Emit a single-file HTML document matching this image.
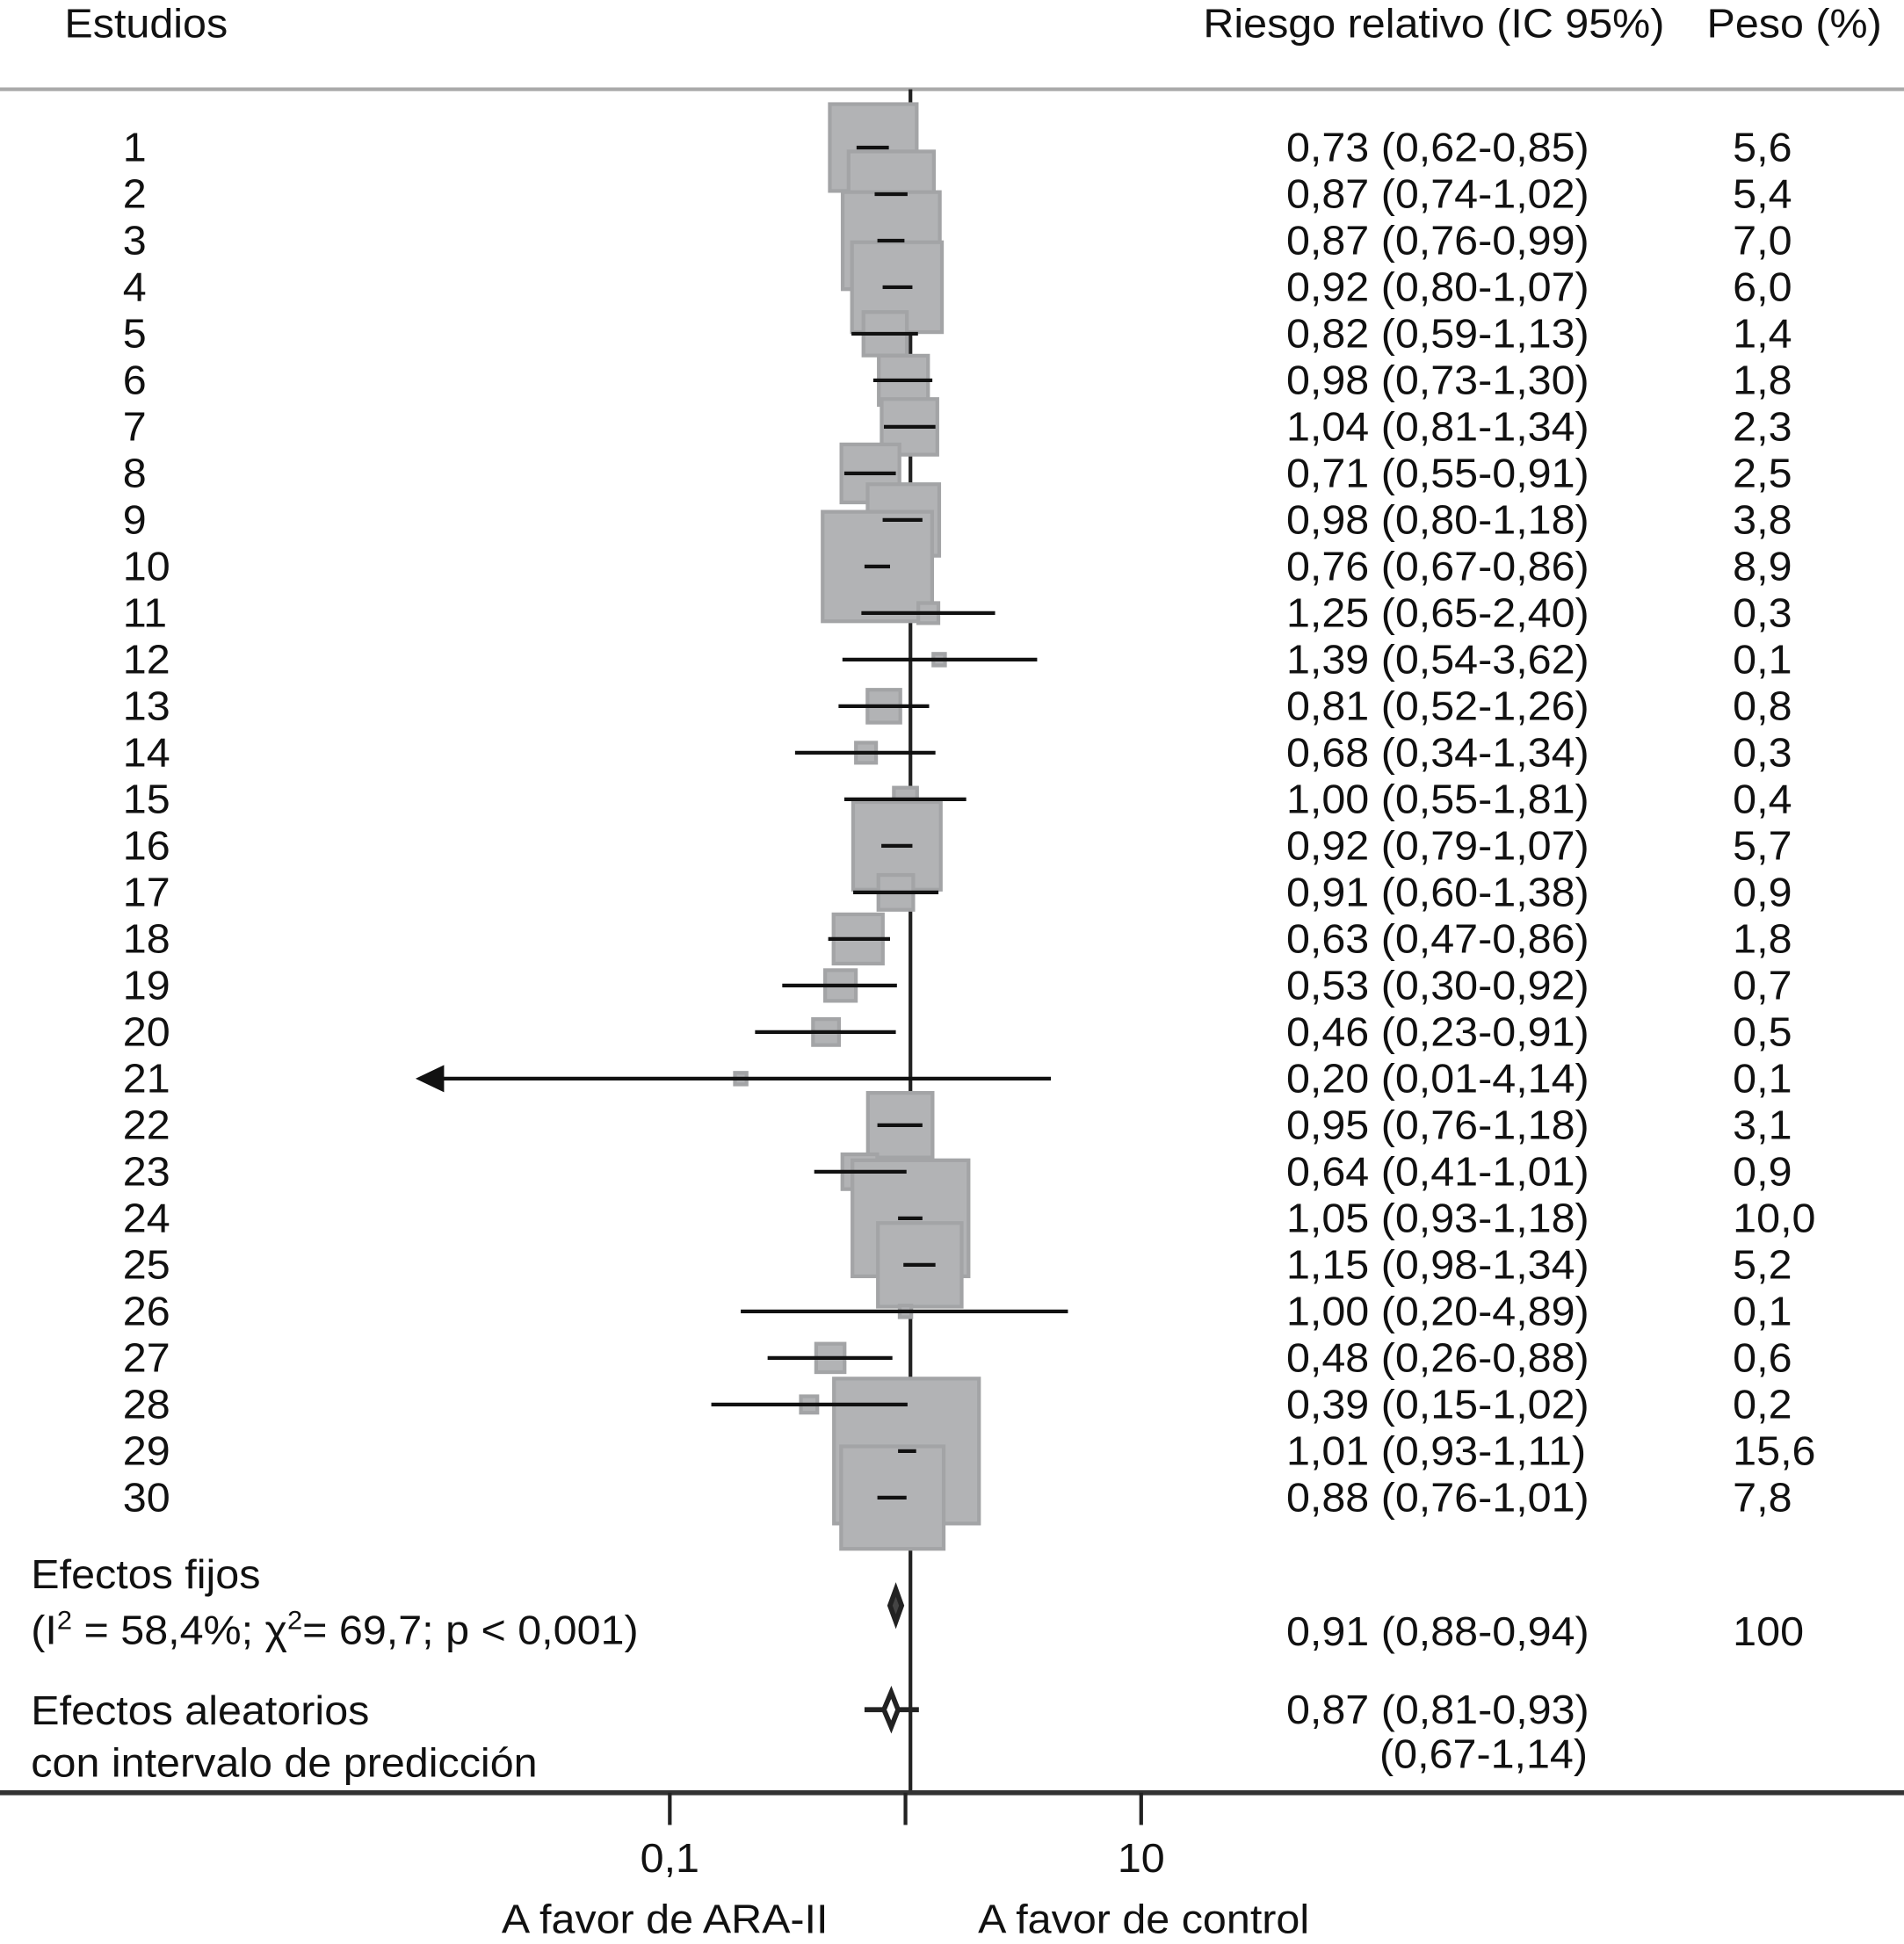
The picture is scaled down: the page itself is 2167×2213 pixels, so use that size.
<!DOCTYPE html>
<html><head><meta charset="utf-8"><style>
html,body{margin:0;padding:0;background:#fff;}
svg{display:block;}
text{font-family:"Liberation Sans",sans-serif;font-size:33px;fill:#111;}
</style></head><body>
<svg id="chart" width="2167" height="2213" viewBox="0 0 1535 1568" preserveAspectRatio="none" xmlns="http://www.w3.org/2000/svg">
<line x1="0" y1="72" x2="1535" y2="72" stroke="#aaa" stroke-width="3"/>
<line x1="734" y1="72" x2="734" y2="1445" stroke="#222" stroke-width="3"/>
<g id="boxes"></g><g id="cis"></g><g id="labels"></g>
<line x1="0" y1="1446" x2="1535" y2="1446" stroke="#333" stroke-width="4"/>
<g id="axis"></g>
</svg>
<script>
const studies=["1","2","3","4","5","6","7","8","9","10","11","12","13","14","15","16","17","18","19","20","21","22","23","24","25","26","27","28","29","30"];
const rr=[0.73,0.87,0.87,0.92,0.82,0.98,1.04,0.71,0.98,0.76,1.25,1.39,0.81,0.68,1.00,0.92,0.91,0.63,0.53,0.46,0.20,0.95,0.64,1.05,1.15,1.00,0.48,0.39,1.01,0.88];
const lo=[0.62,0.74,0.76,0.80,0.59,0.73,0.81,0.55,0.80,0.67,0.65,0.54,0.52,0.34,0.55,0.79,0.60,0.47,0.30,0.23,0.01,0.76,0.41,0.93,0.98,0.20,0.26,0.15,0.93,0.76];
const hi=[0.85,1.02,0.99,1.07,1.13,1.30,1.34,0.91,1.18,0.86,2.40,3.62,1.26,1.34,1.81,1.07,1.38,0.86,0.92,0.91,4.14,1.18,1.01,1.18,1.34,4.89,0.88,1.02,1.11,1.01];
const weights=[5.6,5.4,7.0,6.0,1.4,1.8,2.3,2.5,3.8,8.9,0.3,0.1,0.8,0.3,0.4,5.7,0.9,1.8,0.7,0.5,0.1,3.1,0.9,10.0,5.2,0.1,0.6,0.2,15.6,7.8];
const pooledFixed=[0.91,0.88,0.94];
const pooledRandom=[0.87,0.81,0.93];
const predInterval=[0.67,1.14];
const tickValues=[0.1,1,10];
const tickLabels=["0,1","","10"];
const NS="http://www.w3.org/2000/svg";
const X=v=>730+190*Math.log10(v);
const Y=i=>119+i*37.55;
const fmt=v=>v.toFixed(2).replace('.',',');
const svg=document.getElementById('chart');
function el(tag,attrs,parent){const e=document.createElementNS(NS,tag);for(const k in attrs)e.setAttribute(k,attrs[k]);(parent||svg).appendChild(e);return e;}
function txt(s,x,y,anchor,parent,name){const t=el('text',{transform:`translate(${x},${y}) scale(1.04,1)`,'text-anchor':anchor||'start'},parent||document.getElementById('labels'));t.textContent=s;


return t;}
const gB=document.getElementById('boxes'),gC=document.getElementById('cis');
txt("Estudios",52,30,'start',null,'header-studies');
txt("Riesgo relativo (IC 95%)",970,30,'start',null,'header-rr');
txt("Peso (%)",1376,30,'start',null,'header-weight');
studies.forEach((s,i)=>{
 const y=Y(i),side=29.6*Math.sqrt(weights[i]),cx=X(rr[i]);
 const b=el('rect',{x:cx-side/2,y:y-side/2,width:side,height:side,fill:'#b2b3b5',stroke:'#a3a4a6','stroke-width':3},gB);
 
 
 let x1=X(lo[i]);const x2=X(hi[i]);
 if(lo[i]<0.02){x1=X(lo[i])+5;
  const a=el('polygon',{points:`${x1-20},${y} ${x1+3},${y-11} ${x1+3},${y+11}`,fill:'#111'},gC);
  
  }
 const l=el('line',{x1:x1,y1:y,x2:x2,y2:y,stroke:'#111','stroke-width':3},gC);
 
 
 txt(s,99,y+11,'start',null,'study-label-'+s);
 txt(`${fmt(rr[i])} (${fmt(lo[i])}-${fmt(hi[i])})`,1037,y+11,'start',null,'rr-text-'+s);
 txt(weights[i].toFixed(1).replace('.',','),1397,y+11,'start',null,'weight-text-'+s);
});
const fy=1295;
const fd=el('polygon',{points:`${X(pooledFixed[1])-2},${fy} ${X(pooledFixed[0])},${fy-13} ${X(pooledFixed[2])+2},${fy} ${X(pooledFixed[0])},${fy+13}`,fill:'#444',stroke:'#222','stroke-width':4},gC);


const ry=1379;
const pl=el('line',{x1:X(predInterval[0]),y1:ry,x2:X(predInterval[1]),y2:ry,stroke:'#222','stroke-width':4},gC);


const rd=el('polygon',{points:`${X(pooledRandom[1])},${ry} ${X(pooledRandom[0])},${ry-14} ${X(pooledRandom[2])},${ry} ${X(pooledRandom[0])},${ry+14}`,fill:'#fff',stroke:'#222','stroke-width':4},gC);


txt("Efectos fijos",25,1281,'start',null,'fixed-effects-label');
const t2=txt("",25,1326,'start',null,'heterogeneity-stats');
t2.innerHTML='(I<tspan dy="-12" font-size="21">2</tspan><tspan dy="12"> = 58,4%; χ</tspan><tspan dy="-12" font-size="21">2</tspan><tspan dy="12">= 69,7; p &lt; 0,001)</tspan>';
txt(`${fmt(pooledFixed[0])} (${fmt(pooledFixed[1])}-${fmt(pooledFixed[2])})`,1037,1327,'start',null,'fixed-rr-text');
txt("100",1397,1327,'start',null,'fixed-weight-text');
txt("Efectos aleatorios",25,1391,'start',null,'random-effects-label');
txt("con intervalo de predicción",25,1433,'start',null,'prediction-label');
txt(`${fmt(pooledRandom[0])} (${fmt(pooledRandom[1])}-${fmt(pooledRandom[2])})`,1037,1390,'start',null,'random-rr-text');
txt(`(${fmt(predInterval[0])}-${fmt(predInterval[1])})`,1280,1426,'end',null,'prediction-text');
const gA=document.getElementById('axis');
tickValues.forEach((v,i)=>{
 const t=el('line',{x1:X(v),y1:1446,x2:X(v),y2:1472,stroke:'#222','stroke-width':3},gA);
 
 
 if(tickLabels[i])txt(tickLabels[i],X(v),1510,'middle',gA,'x-tick-label-'+i);
});
txt("A favor de ARA-II",536,1559,'middle',gA,'favor-treatment-label');
txt("A favor de control",922,1559,'middle',gA,'favor-control-label');
</script>
</body></html>
